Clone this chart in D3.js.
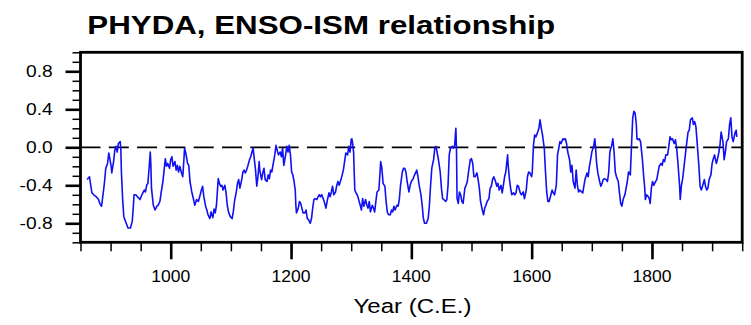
<!DOCTYPE html>
<html><head><meta charset="utf-8">
<script src="https://cdn.jsdelivr.net/npm/d3@7"></script>
<style>body{margin:0;background:#fff}svg{display:block}</style>
</head><body>
<svg id="c" width="751" height="325"></svg>
<script>
const years = [861,865,867,869,872,876,880,882,885,888,890,892,895,897,899,901,902,905,907,909,911,913,916,917,918,920,922,926,929,933,936,938,939,942,946,949,952,956,958,960,962,964,966,967,968,971,974,977,979,982,984,987,989,991,993,995,998,1000,1002,1004,1007,1009,1011,1013,1015,1018,1020,1022,1023,1025,1028,1030,1032,1035,1038,1040,
1043,1046,1049,1051,1053,1055,1058,1060,1062,1065,1067,1070,1072,1074,1076,1079,1081,1083,1085,1087,1090,1092,1094,1096,1099,1102,1104,1106,1109,1111,1113,1115,1118,1120,1122,1124,1126,1128,1131,1133,1135,1137,1139,1141,1143,1145,1147,1148,1151,1153,1155,1157,1160,1162,1164,1166,1168,1171,1173,1175,1177,1179,1182,1184,1186,1188,1191,1193,1195,1197,1199,1201,1203,1205,1207,1208,1209,1212,1214,1216,1218,1220,
1223,1225,1227,1229,1232,1234,1236,1238,1240,1243,1245,1247,1249,1251,1254,1256,1258,1260,1263,1265,1267,1269,1271,1274,1276,1278,1280,1283,1285,1287,1289,1291,1294,1296,1298,1300,1301,1302,1304,1305,1306,1308,1310,1312,1315,1317,1319,1321,1324,1326,1328,1330,1332,1335,1337,1339,1341,1343,1346,1348,1349,1351,1353,1356,1358,1360,1362,1365,1367,1369,1371,1373,1376,1378,1380,1382,1385,1387,1389,1391,1393,1396,1398,1400,1403,
1404,1407,1409,1411,1413,1416,1418,1420,1422,1425,1428,1430,1432,1434,1437,1439,1441,1443,1445,1448,1450,1452,1454,1457,1459,1461,1463,1465,1468,1470,1472,1474,1475,1476,1478,1480,1482,1484,1486,1489,1491,1493,1495,1498,1500,1502,1504,1506,1509,1511,1513,1515,1518,1520,1522,1524,1526,1529,1531,1533,1535,1537,1540,1542,1544,1546,1549,1551,1553,1555,1557,1560,1561,1563,1565,1567,1570,1572,1574,1576,1578,1581,1583,1586,
1588,1591,1593,1595,1597,1600,1601,1603,1605,1607,1610,1612,1614,1616,1618,1621,1623,1625,1627,1629,1632,1634,1636,1638,1641,1643,1645,1647,1649,1652,1654,1656,1658,1660,1663,1665,1667,1669,1672,1674,1676,1678,1680,1683,1685,1687,1689,1692,1694,1696,1698,1700,1703,1705,1706,1708,1710,1713,1715,1717,1719,1721,1724,1726,1728,1730,1733,1735,1737,1739,1741,1744,1746,1748,1750,1752,1755,1757,1759,1761,1764,1766,1768,
1770,1772,1774,1775,1777,1779,1781,1784,1786,1788,1789,1791,1794,1796,1797,1799,1801,1803,1806,1808,1810,1812,1815,1817,1819,1821,1823,1826,1828,1830,1832,1834,1837,1839,1841,1843,1846,1847,1849,1851,1853,1856,1858,1860,1862,1864,1867,1869,1871,1873,1875,1878,1880,1882,1884,1887,1889,1891,1893,1895,1898,1900,1902,1904,1907,1909,1911,1913,1915,1918,1920,1922,1924,1927,1929,1931,1933,1935,1938,1940,1941];
const values = [-0.34,-0.31,-0.40,-0.48,-0.50,-0.52,-0.55,-0.59,-0.62,-0.47,-0.36,-0.22,-0.17,-0.06,-0.13,-0.20,-0.27,-0.15,-0.03,0.01,-0.05,0.04,0.06,-0.01,-0.26,-0.54,-0.73,-0.80,-0.85,-0.85,-0.78,-0.61,-0.50,-0.50,-0.53,-0.55,-0.50,-0.45,-0.47,-0.40,-0.38,-0.22,-0.05,-0.19,-0.43,-0.61,-0.66,-0.62,-0.61,-0.57,-0.48,-0.36,-0.24,-0.12,-0.20,-0.17,-0.22,-0.13,-0.10,-0.20,-0.15,-0.24,-0.19,-0.26,-0.20,-0.27,-0.31,-0.12,-0.01,-0.06,-0.17,-0.19,-0.36,-0.47,-0.55,-0.61,
-0.55,-0.57,-0.50,-0.45,-0.41,-0.52,-0.62,-0.66,-0.71,-0.75,-0.68,-0.74,-0.65,-0.69,-0.61,-0.33,-0.38,-0.41,-0.40,-0.45,-0.40,-0.48,-0.61,-0.68,-0.73,-0.75,-0.68,-0.57,-0.47,-0.38,-0.34,-0.43,-0.34,-0.26,-0.24,-0.27,-0.24,-0.20,-0.13,-0.10,-0.05,-0.01,-0.13,-0.24,-0.41,-0.31,-0.15,-0.24,-0.34,-0.27,-0.22,-0.34,-0.36,-0.29,-0.33,-0.24,-0.26,-0.15,-0.08,0.02,-0.03,-0.08,-0.05,-0.10,-0.01,-0.19,-0.08,0.01,-0.05,0.02,-0.08,-0.26,-0.29,-0.36,-0.45,-0.61,-0.69,-0.64,-0.57,-0.59,-0.64,-0.69,
-0.69,-0.66,-0.75,-0.76,-0.80,-0.75,-0.64,-0.55,-0.54,-0.55,-0.52,-0.50,-0.52,-0.50,-0.55,-0.59,-0.64,-0.57,-0.48,-0.52,-0.47,-0.41,-0.50,-0.47,-0.40,-0.36,-0.40,-0.34,-0.29,-0.24,-0.15,-0.06,-0.08,0.01,-0.05,0.08,0.09,0.06,-0.05,-0.26,-0.45,-0.48,-0.50,-0.54,-0.61,-0.66,-0.54,-0.62,-0.55,-0.61,-0.64,-0.57,-0.68,-0.61,-0.64,-0.68,-0.57,-0.47,-0.45,-0.26,-0.15,-0.22,-0.38,-0.41,-0.57,-0.68,-0.71,-0.71,-0.66,-0.68,-0.62,-0.66,-0.61,-0.62,-0.55,-0.40,-0.26,-0.22,-0.22,-0.26,-0.36,-0.47,-0.40,-0.36,-0.33,
-0.31,-0.27,-0.24,-0.31,-0.40,-0.50,-0.61,-0.75,-0.80,-0.80,-0.75,-0.61,-0.40,-0.22,-0.13,-0.01,0.01,-0.06,-0.13,-0.26,-0.43,-0.54,-0.55,-0.57,-0.55,-0.40,-0.08,-0.01,0.01,-0.01,0.02,0.20,-0.01,-0.54,-0.59,-0.47,-0.50,-0.57,-0.59,-0.43,-0.40,-0.36,-0.26,-0.13,-0.12,-0.17,-0.31,-0.31,-0.27,-0.34,-0.43,-0.57,-0.66,-0.71,-0.64,-0.61,-0.57,-0.54,-0.43,-0.41,-0.34,-0.31,-0.36,-0.41,-0.38,-0.45,-0.40,-0.48,-0.40,-0.31,-0.26,-0.08,-0.19,-0.33,-0.43,-0.50,-0.48,-0.50,-0.48,-0.40,-0.41,-0.48,-0.50,-0.47,
-0.54,-0.45,-0.31,-0.26,-0.27,-0.31,-0.26,0.02,0.13,0.11,0.16,0.20,0.29,0.20,0.13,-0.01,-0.26,-0.47,-0.57,-0.57,-0.50,-0.45,-0.48,-0.50,-0.40,-0.08,-0.01,0.06,0.04,0.09,0.08,0.09,0.04,-0.05,-0.13,-0.26,-0.19,-0.36,-0.43,-0.24,-0.40,-0.47,-0.45,-0.47,-0.48,-0.40,-0.33,-0.27,-0.31,-0.20,-0.13,-0.05,0.01,0.09,0.02,-0.17,-0.27,-0.36,-0.41,-0.38,-0.34,-0.33,-0.34,-0.36,-0.27,-0.05,0.02,0.09,-0.05,-0.26,-0.31,-0.36,-0.48,-0.59,-0.62,-0.55,-0.50,-0.43,-0.36,-0.26,-0.29,0.02,0.31,
0.38,0.36,0.24,0.09,0.08,0.09,0.06,-0.12,-0.29,-0.43,-0.55,-0.50,-0.52,-0.55,-0.59,-0.43,-0.36,-0.40,-0.36,-0.34,-0.27,-0.20,-0.17,-0.19,-0.13,-0.15,-0.08,-0.08,0.01,0.11,0.08,0.09,0.04,0.08,-0.01,-0.15,-0.41,-0.55,-0.40,-0.33,-0.22,-0.05,0.06,0.16,0.18,0.29,0.31,0.24,0.27,0.22,0.06,-0.20,-0.41,-0.45,-0.41,-0.34,-0.41,-0.45,-0.43,-0.34,-0.29,-0.17,-0.12,-0.08,-0.17,-0.12,-0.06,0.02,0.16,0.06,-0.13,-0.05,0.06,0.09,0.24,0.31,0.11,0.06,0.15,0.18,0.11];

const yMajorTicks = [-0.8, -0.4, 0.0, 0.4, 0.8];
const yMinorTicks = d3.range(-10, 11).map(d => d / 10);
const xMajorTicks = [1000, 1200, 1400, 1600, 1800];
const xMinorTicks = d3.range(850, 1951, 50);
const titleText = "PHYDA, ENSO-ISM relationship";
const xTitleText = "Year (C.E.)";

const svg = d3.select("#c");
const L = 80.5, R = 742.2, T = 52.3, B = 242.3;
const x = d3.scaleLinear().domain([850, 1950]).range([L, R]);
const y = d3.scaleLinear().domain([-1, 1]).range([B, T]);
const FONT = "'Liberation Sans', Arial, Helvetica, sans-serif";

function measure(txt, size, weight) {
  const t = svg.append("text").attr("font-family", FONT).attr("font-size", size)
    .attr("font-weight", weight).text(txt);
  const w = t.node().getComputedTextLength();
  t.remove();
  return w;
}
function stretchedText(txt, px, py, size, weight, anchor, sx) {
  const t = svg.append("text").attr("font-family", FONT).attr("font-size", size)
    .attr("font-weight", weight).attr("fill", "#000").text(txt);
  const w = t.node().getComputedTextLength() * sx;
  let x0 = px;
  if (anchor === "middle") x0 = px - w / 2;
  else if (anchor === "end") x0 = px - w;
  t.attr("transform", `translate(${x0},${py}) scale(${sx},1)`);
  return t;
}

// dashed zero line
svg.append("line").attr("x1", L).attr("x2", R).attr("y1", y(0)).attr("y2", y(0))
  .attr("stroke", "#000").attr("stroke-width", 1.8).attr("stroke-dasharray", "20,8.3");

// data line
const data = years.map((yr, i) => ({ yr, v: values[i] }));
svg.append("path").datum(data)
  .attr("d", d3.line().x(d => x(d.yr)).y(d => y(d.v)))
  .attr("fill", "none").attr("stroke", "#1010f2").attr("stroke-width", 1.6)
  .attr("stroke-linejoin", "round");

// y axis ticks
const gy1 = svg.append("g").attr("transform", `translate(${L},0)`)
  .call(d3.axisLeft(y).tickValues(yMinorTicks).tickSize(8).tickFormat(""));
gy1.select(".domain").remove();
gy1.selectAll("line").attr("stroke-width", 1.5);
const gy2 = svg.append("g").attr("transform", `translate(${L},0)`)
  .call(d3.axisLeft(y).tickValues(yMajorTicks).tickSize(15).tickFormat(""));
gy2.select(".domain").remove();
gy2.selectAll("line").attr("stroke-width", 2.6);
const fmtY = d => d.toFixed(1).replace("\u2212", "-");
const sxY = 26.7 / measure("0.8", 16, "normal");
yMajorTicks.forEach(v => stretchedText(fmtY(v), 52.7, y(v) + 6, 16, "normal", "end", sxY));

// x axis ticks
const gx1 = svg.append("g").attr("transform", `translate(0,${B})`)
  .call(d3.axisBottom(x).tickValues(xMinorTicks).tickSize(9).tickFormat(""));
gx1.select(".domain").remove();
gx1.selectAll("line").attr("stroke-width", 1.5);
const gx2 = svg.append("g").attr("transform", `translate(0,${B})`)
  .call(d3.axisBottom(x).tickValues(xMajorTicks).tickSize(17).tickFormat(""));
gx2.select(".domain").remove();
gx2.selectAll("line").attr("stroke-width", 2.6);
const sxX = 39 / measure("1000", 16, "normal");
xMajorTicks.forEach(v => stretchedText(String(v), x(v), 282, 16, "normal", "middle", sxX));

// frame
svg.append("rect").attr("x", L).attr("y", T).attr("width", R - L).attr("height", B - T)
  .attr("fill", "none").attr("stroke", "#000").attr("stroke-width", 2.8);

// titles
const sxT = 468 / measure(titleText, 26, "bold");
stretchedText(titleText, 87.3, 33.5, 26, "bold", "start", sxT);
const sxA = 118 / measure(xTitleText, 19.5, "normal");
stretchedText(xTitleText, 412.5, 313, 19.5, "normal", "middle", sxA);
</script>
</body></html>
